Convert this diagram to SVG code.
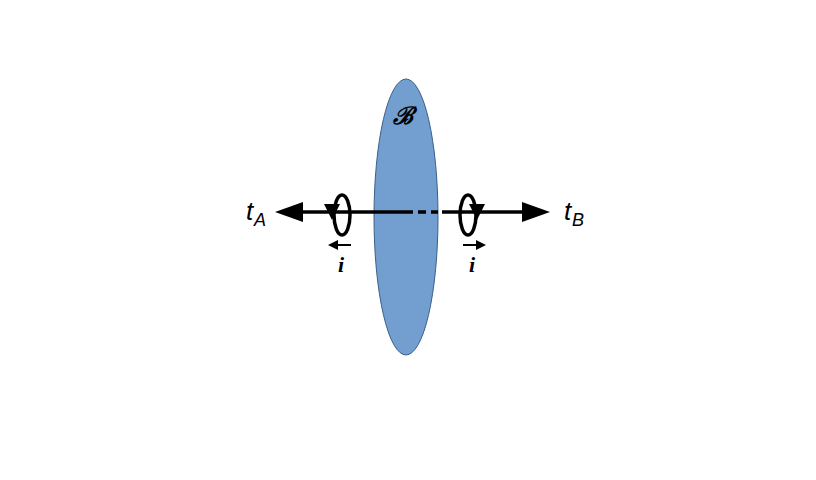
<svg xmlns="http://www.w3.org/2000/svg" width="816" height="480" viewBox="0 0 816 480">
<style>
.ln{stroke:#000;stroke-width:3.5;fill:none}
.lbl{font-family:"Liberation Sans",Arial,sans-serif;font-size:26px;font-style:italic}
.sub{font-family:"Liberation Sans",Arial,sans-serif;font-size:18px;font-style:italic}
.i{font-family:"Liberation Serif",serif;font-size:22px;font-style:italic;font-weight:bold}
</style>
<rect width="816" height="480" fill="#fff"/>
<g id="surface">
<ellipse cx="406" cy="217" rx="32" ry="138" fill="#729fcf" stroke="#3a5f8a" stroke-width="1"/>
<text x="403" y="124" text-anchor="middle" font-family="DejaVu Serif,serif" font-size="24" font-weight="bold" font-style="italic">ℬ</text>
</g>
<g id="connectors">
<line class="ln" x1="300" y1="212" x2="405" y2="212"/>
<line class="ln" x1="405" y1="212" x2="438" y2="212" stroke-dasharray="8,5"/>
<line class="ln" x1="442" y1="212" x2="528" y2="212"/>
<polygon points="275,212 303,202 303,222"/>
<polygon points="550,212 522,202 522,222"/>
</g>
<g id="loopA">
<ellipse class="ln" cx="342" cy="215" rx="8" ry="20"/>
<polygon points="324,204 340,204 332,220"/>
<line stroke="#000" stroke-width="2" x1="336" y1="245" x2="351" y2="245"/>
<polygon points="328,245 338,240 338,250"/>
<text class="i" x="341" y="272" text-anchor="middle">i</text>
</g>
<g id="loopB">
<ellipse class="ln" cx="468" cy="215" rx="8" ry="20"/>
<polygon points="469,204 485,204 477,220"/>
<line stroke="#000" stroke-width="2" x1="463" y1="245" x2="477" y2="245"/>
<polygon points="486,245 476,240 476,250"/>
<text class="i" x="472" y="272" text-anchor="middle">i</text>
</g>
<g id="tA"><text class="lbl" x="246" y="220">t</text><text class="sub" x="254" y="226">A</text></g>
<g id="tB"><text class="lbl" x="564" y="220">t</text><text class="sub" x="572" y="226">B</text></g>
</svg>
